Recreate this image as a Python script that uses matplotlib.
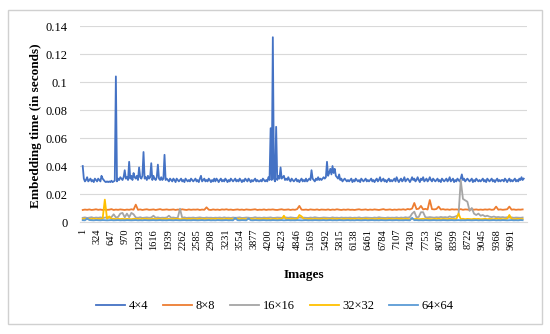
import numpy as np
import matplotlib
matplotlib.use('Agg')
import matplotlib.pyplot as plt
from matplotlib.patches import Rectangle
from matplotlib.ticker import FormatStrFormatter

# Tiempos de inserción en milisegundos
# 4x4: una muestra cada 25 imágenes
t_4x4 = [
    40, 31, 29, 30, 32, 29, 30, 31, 29, 30, 28.5, 31, 30, 29, 31, 30, 29, 33, 31, 30,
    29, 28.5, 29, 28.5, 29, 28.5, 29.5, 28.5, 29, 29.5, 104, 29, 31, 30, 32, 31, 30, 32, 37, 31,
    32, 30, 43, 31, 33, 30, 35, 32, 31, 33, 30, 39, 32, 31, 33, 50, 31, 32, 30, 33,
    31, 32, 42, 30, 33, 31, 30, 32, 41, 31, 30, 32, 30, 31, 48, 30, 31, 30, 29, 31,
    30, 29, 31, 30, 28.5, 31, 30, 29, 30, 31, 29, 30, 28.5, 31, 30, 29, 30, 29, 31, 30,
    29, 30, 31, 29, 30, 28.5, 31, 33, 29, 30, 31, 29, 30, 29, 31, 30, 28.5, 30, 29, 31,
    29, 31, 30, 28.5, 30, 31, 29, 30, 29, 31, 30, 28.5, 30, 29, 31, 30, 29, 30, 31, 29,
    30, 29, 31, 30, 28.5, 30, 29, 31, 30, 29, 31, 30, 28.5, 30, 29, 30, 31, 29, 30, 29,
    29, 30, 29, 31, 30, 29, 30, 29, 32, 30, 67, 30, 132, 31, 29, 68, 30, 33, 31, 39,
    31, 32, 33, 30, 31, 30, 32, 30, 29, 31, 30, 29, 30, 31, 29, 30, 28.5, 30, 31, 29,
    30, 29, 31, 29, 30, 31, 30, 37, 31, 30, 29, 31, 30, 32, 30, 31, 30, 31, 32, 31,
    32, 43, 33, 35, 38, 34, 40, 35, 38, 33, 32, 31, 34, 30, 31, 29, 30, 31, 30, 29,
    30, 29, 30, 31, 28.5, 30, 29, 31, 30, 29, 30, 28.5, 31, 30, 29, 30, 31, 29, 30, 29,
    30, 31, 29, 30, 28.5, 30, 31, 29, 30, 32, 29, 30, 31, 29, 30, 28.5, 30, 31, 29, 30,
    29, 30, 31, 29, 32, 30, 28.5, 30, 31, 29, 30, 32, 29, 30, 31, 30, 28.5, 30, 32, 30,
    31, 29, 30, 32, 30, 28.5, 31, 30, 32, 29, 30, 31, 29, 30, 32, 30, 29, 31, 30, 29,
    30, 31, 29, 30, 28.5, 31, 30, 29, 30, 31, 29, 30, 32, 29, 30, 31, 28.5, 30, 29, 31,
    30, 29, 31, 34, 30, 31, 29, 30, 31, 30, 29, 30, 31, 28.5, 30, 29, 31, 30, 29, 30,
    29, 30, 31, 29, 30, 28.5, 31, 30, 29, 30, 31, 29, 30, 28.5, 30, 31, 29, 30, 29, 30,
    30, 29, 31, 30, 28.5, 30, 31, 29, 30, 29, 30, 31, 29, 30, 29, 31, 30, 32, 30, 31,
]

# resto de series: una muestra cada 50 imágenes
t_8x8 = [
    8.6, 8.9, 8.7, 9.0, 8.6, 8.8, 9.1, 8.7, 8.9, 8.6, 9.0, 8.7, 8.8, 9.2, 8.6, 8.9, 8.7, 9.0, 8.8, 8.6,
    8.9, 8.7, 9.1, 8.8, 12.4, 8.7, 9.0, 8.6, 8.9, 9.1, 8.7, 8.8, 9.0, 8.6, 8.9, 9.2, 8.7, 8.8, 9.0, 8.7,
    8.8, 9.0, 8.6, 8.9, 8.7, 9.1, 8.8, 8.6, 9.0, 8.7, 8.9, 8.8, 9.0, 8.6, 8.9, 8.7, 10.5, 8.8, 8.6, 9.0,
    8.7, 8.9, 8.6, 9.0, 8.8, 9.1, 8.7, 8.9, 8.6, 8.8, 9.0, 8.7, 8.9, 8.6, 9.0, 8.8, 8.7, 8.9, 9.1, 8.6,
    8.8, 8.7, 9.0, 8.6, 8.9, 8.8, 9.0, 8.7, 8.6, 8.9, 9.1, 8.7, 8.8, 9.0, 8.6, 8.9, 8.7, 9.2, 11.5, 8.8,
    8.7, 8.9, 8.6, 9.0, 8.8, 8.7, 9.0, 8.6, 8.9, 8.8, 8.7, 9.0, 8.6, 8.9, 8.7, 9.1, 8.8, 8.6, 8.9, 8.7,
    9.0, 8.7, 8.8, 8.6, 8.9, 9.1, 8.7, 8.8, 9.0, 8.6, 8.9, 8.7, 9.0, 8.8, 8.6, 8.9, 9.2, 8.7, 8.8, 9.0,
    8.6, 8.9, 8.7, 9.0, 8.8, 9.1, 8.7, 9.3, 9.0, 9.6, 13.6, 9.2, 9.5, 11.5, 9.0, 9.4, 8.9, 15.7, 9.2, 9.0,
    9.3, 11.0, 8.9, 9.2, 8.8, 9.0, 8.7, 9.1, 8.9, 9.0, 8.8, 9.2, 8.7, 9.0, 8.9, 8.7, 9.1, 8.8, 9.0, 8.7,
    8.9, 8.7, 9.0, 8.8, 9.1, 8.7, 8.9, 11.0, 8.8, 9.0, 8.7, 8.9, 9.1, 11.0, 8.8, 9.0, 8.7, 8.9, 8.8, 9.0,
]

t_16x16 = [
    3.0, 3.3, 2.9, 3.1, 3.4, 2.9, 3.2, 3.0, 3.3, 2.9, 3.1, 3.4, 3.0, 3.5, 5.5, 3.2, 3.6, 6.0, 6.5, 3.3,
    6.0, 3.4, 6.5, 5.5, 3.2, 3.0, 3.4, 2.9, 3.1, 3.3, 3.0, 3.2, 4.5, 3.0, 3.3, 2.9, 3.1, 3.0, 3.2, 4.5,
    3.0, 3.2, 2.9, 3.1, 9.5, 3.0, 3.3, 2.9, 3.1, 3.0, 3.2, 2.9, 3.1, 3.3, 3.0, 2.9, 3.2, 3.0, 3.1, 2.9,
    3.1, 3.0, 3.2, 2.9, 3.3, 3.0, 3.1, 2.9, 3.2, 3.0, 3.1, 3.3, 2.9, 3.0, 3.2, 3.1, 2.9, 3.0, 3.4, 3.0,
    3.1, 2.9, 3.2, 3.0, 3.1, 3.3, 2.9, 3.0, 3.2, 3.1, 3.0, 2.9, 3.2, 3.0, 3.3, 3.1, 2.9, 3.0, 3.2, 3.0,
    3.1, 3.0, 2.9, 3.2, 3.0, 3.4, 3.1, 2.9, 3.0, 3.2, 3.1, 3.0, 2.9, 3.3, 3.0, 3.1, 2.9, 3.2, 3.0, 3.1,
    3.0, 3.2, 2.9, 3.1, 3.0, 3.3, 2.9, 3.0, 3.2, 3.1, 3.0, 2.9, 3.2, 3.0, 3.4, 3.1, 3.0, 2.9, 3.2, 3.0,
    3.1, 3.0, 3.3, 2.9, 3.2, 3.0, 3.4, 3.1, 3.5, 6.0, 7.4, 3.3, 3.6, 7.0, 7.0, 3.4, 3.2, 3.5, 3.3, 3.1,
    3.4, 3.2, 3.6, 3.3, 3.5, 3.2, 4.0, 3.4, 3.6, 4.2, 5.0, 30.0, 16.5, 15.5, 14.5, 8.0, 10.0, 6.0, 5.0, 6.0,
    4.5, 5.0, 4.0, 4.5, 3.8, 3.5, 3.9, 3.4, 3.6, 3.3, 3.5, 3.2, 3.4, 3.1, 3.3, 3.0, 3.2, 3.1, 3.0, 3.2,
]

t_32x32 = [
    2.1, 2.3, 2.0, 2.2, 2.1, 2.4, 2.0, 2.2, 2.1, 2.3, 16.0, 2.2, 4.0, 2.1, 2.3, 2.0, 2.2, 2.1, 2.3, 2.0,
    2.2, 2.1, 2.0, 2.3, 2.1, 2.2, 2.0, 2.3, 2.1, 2.2, 2.0, 2.1, 2.3, 2.0, 2.2, 2.1, 2.0, 2.3, 2.1, 2.2,
    2.0, 2.2, 2.1, 2.3, 2.0, 2.1, 2.2, 2.0, 2.3, 2.1, 2.2, 2.0, 2.1, 2.3, 2.0, 2.2, 2.1, 2.0, 2.2, 2.1,
    2.3, 2.0, 2.2, 2.1, 2.0, 2.3, 2.1, 2.2, 2.0, 2.1, 2.3, 2.0, 2.2, 2.1, 2.0, 2.2, 2.3, 2.1, 2.0, 2.2,
    2.1, 2.0, 2.3, 2.1, 2.2, 2.0, 2.1, 2.3, 2.0, 2.2, 2.1, 4.5, 2.0, 2.2, 2.1, 2.3, 2.0, 2.1, 5.0, 4.0,
    2.2, 2.0, 2.1, 2.3, 2.0, 2.2, 2.1, 2.0, 2.3, 2.1, 2.2, 2.0, 2.1, 2.3, 2.0, 2.2, 2.1, 2.0, 2.2, 2.1,
    2.0, 2.2, 2.1, 2.3, 2.0, 2.1, 2.2, 2.0, 2.3, 2.1, 2.0, 2.2, 2.1, 2.0, 2.3, 2.1, 2.2, 2.0, 2.1, 2.3,
    2.1, 2.0, 2.2, 2.1, 2.3, 2.0, 2.2, 2.1, 2.0, 2.3, 2.1, 2.2, 2.0, 2.1, 2.3, 2.0, 2.2, 2.1, 2.0, 2.2,
    2.1, 2.3, 2.0, 2.2, 2.1, 2.0, 2.3, 2.1, 2.2, 2.0, 6.0, 2.1, 2.3, 2.0, 2.2, 2.1, 2.0, 2.3, 2.1, 2.2,
    2.0, 2.1, 2.3, 2.0, 2.2, 2.1, 2.0, 2.3, 2.1, 2.2, 2.0, 2.1, 2.3, 5.0, 2.2, 2.0, 2.1, 2.3, 2.0, 2.1,
]

t_64x64 = [
    1.3, 1.2, 2.5, 1.4, 1.3, 1.2, 1.4, 1.3, 1.2, 1.4, 1.3, 1.2, 1.3, 1.4, 1.2, 1.3, 1.4, 1.2, 1.3, 1.2,
    1.4, 1.3, 1.2, 1.3, 1.4, 1.2, 1.3, 1.2, 1.4, 1.3, 1.2, 1.3, 1.4, 1.2, 1.3, 1.4, 1.2, 1.3, 1.2, 1.4,
    1.3, 1.2, 1.4, 1.3, 1.2, 1.3, 1.4, 1.2, 1.3, 1.2, 1.4, 1.3, 1.2, 1.3, 1.4, 1.2, 1.3, 1.4, 1.2, 1.3,
    1.2, 1.4, 1.3, 1.2, 1.3, 1.4, 1.2, 1.3, 1.2, 3.0, 1.3, 1.2, 1.4, 1.3, 1.2, 2.5, 1.3, 1.2, 1.4, 1.3,
    1.2, 1.3, 1.4, 1.2, 1.3, 1.2, 1.4, 1.3, 1.2, 1.3, 1.4, 1.2, 1.3, 1.4, 1.2, 1.3, 1.2, 1.4, 1.3, 1.2,
    1.3, 1.4, 1.2, 1.3, 1.2, 1.4, 1.3, 1.2, 1.3, 1.4, 1.2, 1.3, 1.4, 1.2, 1.3, 1.2, 1.4, 1.3, 1.2, 1.3,
    1.4, 1.2, 1.3, 1.2, 1.4, 1.3, 1.2, 1.3, 1.4, 1.2, 1.3, 1.4, 1.2, 1.3, 1.2, 1.4, 1.3, 1.2, 1.3, 1.4,
    1.2, 1.3, 1.4, 1.2, 1.3, 1.2, 1.4, 1.3, 1.2, 3.0, 1.3, 1.4, 1.2, 1.3, 1.2, 1.4, 1.3, 1.2, 1.3, 1.4,
    1.2, 1.3, 1.2, 1.4, 1.3, 1.2, 1.3, 1.4, 1.2, 1.3, 1.4, 1.2, 1.3, 1.2, 1.4, 1.3, 1.2, 1.3, 1.4, 1.2,
    1.3, 1.2, 1.4, 1.3, 1.2, 1.3, 1.4, 1.2, 1.3, 1.2, 1.4, 1.3, 1.2, 1.3, 1.4, 1.2, 1.3, 1.2, 1.4, 1.3,
]

etiquetas = ['4×4', '8×8', '16×16', '32×32', '64×64']
colores = ['#4472C4', '#ED7D31', '#A5A5A5', '#FFC000', '#5B9BD5']
ticks_x = [1, 324, 647, 970, 1293, 1616, 1939, 2262, 2585, 2908, 3231, 3554, 3877, 4200,
           4523, 4846, 5169, 5492, 5815, 6138, 6461, 6784, 7107, 7430, 7753, 8076, 8399,
           8722, 9045, 9368, 9691]

plt.rcParams['font.family'] = ['Liberation Serif', 'DejaVu Serif']

img_fino = np.arange(1, 10001, 25)
img_grueso = np.arange(1, 10001, 50)
series = [(img_fino, t_4x4), (img_grueso, t_8x8), (img_grueso, t_16x16),
          (img_grueso, t_32x32), (img_grueso, t_64x64)]

fig = plt.figure(figsize=(5.5, 3.34), dpi=100)
fig.patches.append(Rectangle((0.0145, 0.03), 0.971, 0.94, transform=fig.transFigure,
                             fill=False, edgecolor='#d0d0d0', linewidth=1))
ax = fig.add_axes([0.1455, 0.3353, 0.8127, 0.5868])

for (x, t), nombre, c in zip(series, etiquetas, colores):
    ax.plot(x, np.array(t) / 1000, color=c, linewidth=1.3, label=nombre)

ax.set_xlim(-60, 10050)
ax.set_ylim(0, 0.14)
ax.set_yticks(np.arange(0, 0.141, 0.02))
ax.yaxis.set_major_formatter(FormatStrFormatter('%g'))
ax.grid(axis='y', color='#d9d9d9', linewidth=0.8)
ax.set_axisbelow(True)
ax.set_xticks(ticks_x)
ax.set_xticklabels([str(v) for v in ticks_x], rotation=90, fontsize=7.5)
ax.tick_params(axis='y', length=0, pad=9, labelsize=9)
ax.tick_params(axis='x', length=0, pad=5)
for s in ['top', 'right', 'left']:
    ax.spines[s].set_visible(False)
ax.spines['bottom'].set_color('#d9d9d9')

ax.set_xlabel('Images', fontsize=9.5, fontweight='bold')
ax.xaxis.set_label_coords(0.5, -0.24)
ax.set_ylabel('Embedding time (in seconds)', fontsize=9.5, fontweight='bold')
ax.yaxis.set_label_coords(-0.085, 0.49)

fig.legend(loc='center', bbox_to_anchor=(0.5, 0.084), ncol=5, frameon=False,
           fontsize=9, handlelength=2.3, handletextpad=0.3, columnspacing=1.2)

fig.savefig('out.png', dpi=100)
